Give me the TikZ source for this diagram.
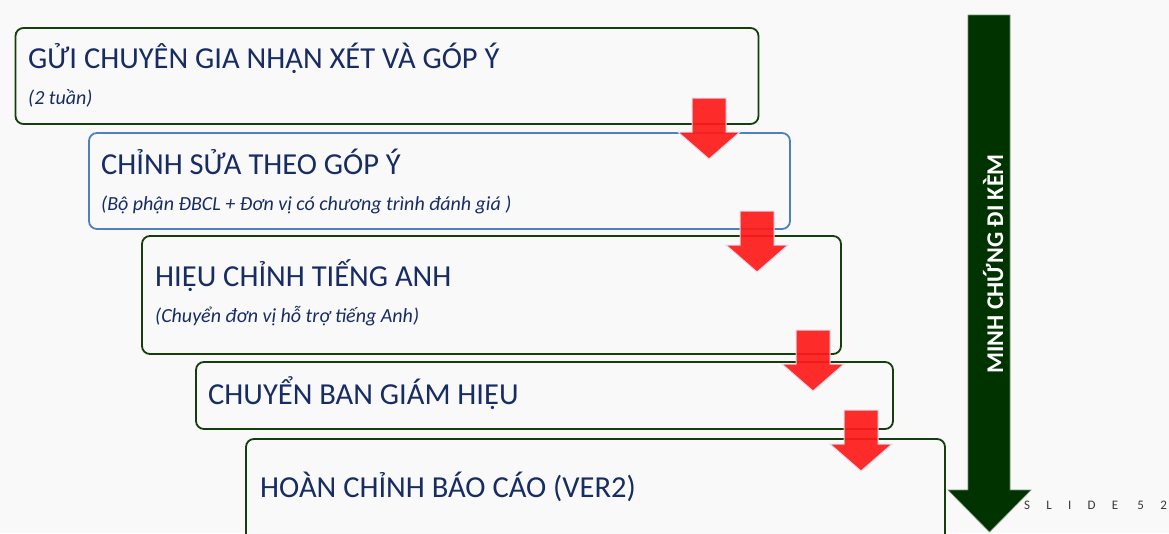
\documentclass[tikz,border=0pt]{standalone}
\usepackage{fontspec}
\setmainfont{Carlito}
\newfontfamily\slidefont[LetterSpace=125]{Carlito}
\definecolor{bgcolor}{RGB}{249,249,249}
\definecolor{boxgreen}{RGB}{22,62,12}
\definecolor{boxblue}{RGB}{78,130,188}
\definecolor{textnavy}{RGB}{24,44,100}
\definecolor{flowred}{RGB}{255,26,26}
\definecolor{arrowedge}{RGB}{218,218,232}
\definecolor{evidgreen}{RGB}{0,51,0}
\definecolor{slidegrey}{RGB}{55,55,55}
\tikzset{
  stepbox/.style={draw=boxgreen, line width=1.8pt, rounded corners=8pt, fill=bgcolor, inner sep=0pt},
  stepbox blue/.style={stepbox, draw=boxblue},
  step title/.style={font=\fontsize{30.5}{30.5}\selectfont, text=textnavy, anchor=base west, inner sep=0pt},
  step note/.style={font=\fontsize{20}{20}\selectfont\itshape, text=textnavy, anchor=base west, inner sep=0pt},
  evidence/.style={font=\fontsize{24}{24}\selectfont\bfseries, text=white, inner sep=0pt},
  slide number/.style={font=\fontsize{13}{13}\selectfont\slidefont, text=slidegrey, anchor=base west, inner sep=0pt},
  pics/flowarrow/.style={
    code={
      \filldraw[draw=arrowedge, line width=1pt, fill=flowred, fill opacity=0.92]
        (-17,0) -- (17,0) -- (17,34) -- (31,34) -- (0,61) -- (-31,34) -- (-17,34) -- cycle;
    }
  }
}
\begin{document}
\begin{tikzpicture}[x=1pt, y=-1pt]
  \fill[bgcolor] (0,0) rectangle (1169,533);
  \clip (0,0) rectangle (1169,533);

  % steps
  \node[stepbox, minimum width=743, minimum height=96] at (387,76) (expert) {};
  \node[step title] at (28,68) (expert title) {GỬI CHUYÊN GIA NHẬN XÉT VÀ GÓP Ý};
  \node[step note] at (28,104) (expert note) {(2 tuần)};

  \node[stepbox blue, minimum width=701, minimum height=96] at (439.5,181) (revise) {};
  \node[step title] at (101,174) (revise title) {CHỈNH SỬA THEO GÓP Ý};
  \node[step note] at (101,210) (revise note) {(Bộ phận ĐBCL + Đơn vị có chương trình đánh giá )};

  \node[stepbox, minimum width=699, minimum height=118] at (491.5,295) (english) {};
  \node[step title] at (155,286) (english title) {HIỆU CHỈNH TIẾNG ANH};
  \node[step note] at (155,322) (english note) {(Chuyển đơn vị hỗ trợ tiếng Anh)};

  \node[stepbox, minimum width=697, minimum height=67] at (544.5,395.5) (board) {};
  \node[step title] at (208,404) (board title) {CHUYỂN BAN GIÁM HIỆU};

  \node[stepbox, minimum width=699, minimum height=120] at (595.5,499) (final) {};
  \node[step title] at (260,497) (final title) {HOÀN CHỈNH BÁO CÁO (VER2)};

  % flow arrows
  \pic at (709,98) {flowarrow};
  \pic at (757,211) {flowarrow};
  \pic at (813,330) {flowarrow};
  \pic at (861,410) {flowarrow};

  % evidence arrow
  \filldraw[evidgreen, draw=evidgreen!55!white, line width=0.6pt]
    (968,15) -- (1010,15) -- (1010,490) -- (1031,490) -- (989.5,532) -- (948,490) -- (968,490) -- cycle;
  \node[evidence, rotate=90] at (993,264) (evidence label) {MINH CHỨNG ĐI KÈM};

  \node[slide number] at (1024,509) (slide no) {SLIDE 52};
\end{tikzpicture}
\end{document}
